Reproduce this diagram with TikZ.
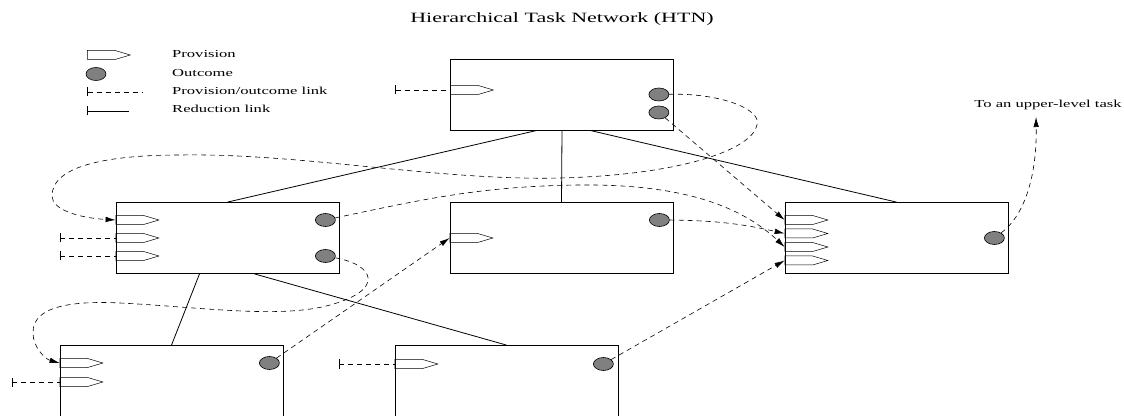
\documentclass[tikz,border=0pt]{standalone}
\usepackage{fontspec}
\setmainfont{Liberation Serif}[FakeStretch=1.55]
\usetikzlibrary{positioning, shapes.geometric, shapes.symbols, arrows.meta}

\tikzset{
	task/.style = {draw, line width = 0.8pt, minimum width = 223pt, minimum height = 71pt, inner sep = 0pt},
	prov/.style = {signal, signal to = east, signal pointer angle = 33, draw, line width = 0.5pt,
		minimum width = 43pt, minimum height = 9pt, inner sep = 0pt, anchor = west},
	outcome/.style = {ellipse, draw, fill = gray, line width = 0.6pt, minimum width = 20pt, minimum height = 13pt, inner sep = 0pt},
	plink/.style = {line width = 0.6pt, dash pattern = on 5pt off 4pt, -{Latex[length = 10pt, width = 5.5pt]}},
	tie/.style = {line width = 0.6pt, dash pattern = on 5pt off 4pt, {Bar[width = 9pt, line width = 0.8pt]}-},
	rlink/.style = {line width = 0.8pt},
	lbl/.style = {font = \fontsize{10.7}{12}\selectfont, inner sep = 0pt}
}

\begin{document}
\begin{tikzpicture}[x = 1pt, y = 1pt]
	\useasboundingbox (0,0) rectangle (1124,415);

	\node[font = \fontsize{14.2}{16}\selectfont, inner sep = 0pt, anchor = base] (title) at (562,392) {Hierarchical Task Network (HTN)};

	% legend
	\node[prov] (lgp) at (87,360) {};
	\node[outcome] (lgo) at (96,341) {};
	\coordinate (lgl1) at (87,323);
	\coordinate (lgl2) at (143,323);
	\coordinate (lgr1) at (87,304);
	\coordinate (lgr2) at (129,304);
	\draw[tie] (lgl1) -- (lgl2);
	\draw[rlink, {Bar[width = 9pt]}-] (lgr1) -- (lgr2);
	\node[lbl, anchor = base west] (lgpt) at (172,357) {Provision};
	\node[lbl, anchor = base west] (lgot) at (172,338) {Outcome};
	\node[lbl, anchor = base west] (lglt) at (172,320) {Provision/outcome link};
	\node[lbl, anchor = base west] (lgrt) at (172,302) {Reduction link};

	% tasks
	\node[task] (T) at (562,320.5) {};
	\node[task] (L) at (227.5,177) {};
	\node[task] (M) at (561.5,177) {};
	\node[task] (R) at (896.5,177) {};
	\node[task] (LL) at (171.5,34) {};
	\node[task] (BC) at (506.5,34) {};

	\node[prov] (tp) at ([yshift = 4.5pt]T.west) {};
	\node[prov] (lp1) at ([yshift = 18pt]L.west) {};
	\node[prov] (lp2) at (L.west) {};
	\node[prov] (lp3) at ([yshift = -18pt]L.west) {};
	\node[prov] (mp) at (M.west) {};
	\node[prov] (rp1) at ([yshift = 18pt]R.west) {};
	\node[prov] (rp2) at ([yshift = 4.5pt]R.west) {};
	\node[prov] (rp3) at ([yshift = -9pt]R.west) {};
	\node[prov] (rp4) at ([yshift = -22.5pt]R.west) {};
	\node[prov] (llp1) at ([yshift = 18pt]LL.west) {};
	\node[prov] (llp2) at ([yshift = -1pt]LL.west) {};
	\node[prov] (bp) at ([yshift = 17pt]BC.west) {};

	\node[outcome] (to1) at ([xshift = -15pt]T.east) {};
	\node[outcome] (to2) at ([shift = {(-15pt,-18pt)}]T.east) {};
	\node[outcome] (lo1) at ([shift = {(-14pt,18pt)}]L.east) {};
	\node[outcome] (lo2) at ([shift = {(-14pt,-18pt)}]L.east) {};
	\node[outcome] (mo) at ([shift = {(-14pt,18pt)}]M.east) {};
	\node[outcome] (ro) at ([xshift = -14pt]R.east) {};
	\node[outcome] (llo) at ([shift = {(-14pt,18pt)}]LL.east) {};
	\node[outcome] (bo) at ([shift = {(-15pt,17pt)}]BC.east) {};

	\node[lbl, anchor = base] (up) at (1048,307) {To an upper-level task};
	\coordinate (upc) at (1036,298);

	% reduction links
	\begin{scope}[rlink]
		\draw ([xshift = -25pt]T.south) -- (L.north);
		\draw (T.south) -- (M.north);
		\draw ([xshift = 28pt]T.south) -- (R.north);
		\draw ([xshift = -28pt]L.south) -- (LL.north);
		\draw ([xshift = 27pt]L.south) -- (BC.north);
	\end{scope}

	% free provisions
	\coordinate[left = 55pt of tp.west] (tf);
	\coordinate[left = 56pt of lp2.west] (lf2);
	\coordinate[left = 56pt of lp3.west] (lf3);
	\coordinate[left = 48pt of llp2.west] (llf);
	\coordinate[left = 56pt of bp.west] (bf);
	\draw[tie] (tf) -- (tp.west);
	\draw[tie] (lf2) -- (lp2.west);
	\draw[tie] (lf3) -- (lp3.west);
	\draw[tie] (llf) -- (llp2.west);
	\draw[tie] (bf) -- (bp.west);

	% provision/outcome links
	\draw[plink] (to1) .. controls (720,322) and (762,306) .. (757,290)
		.. controls (752,265) and (680,240) .. (560,237)
		.. controls (440,234) and (300,262) .. (181,260)
		.. controls (110,260) and (52,250) .. (52,219)
		.. controls (52,205) and (80,197) .. (lp1.west);
	\draw[plink] (to2) -- (rp1.west);
	\draw[plink] (mo) to[bend left = 6] (rp2.west);
	\draw[plink] (lo1) .. controls (420,215) and (480,229) .. (580,230)
		.. controls (680,231) and (740,210) .. (rp3.west);
	\draw[plink] (bo) -- (rp4.west);
	\draw[plink] (llo) -- (mp.west);
	\draw[plink] (lo2) .. controls (375,150) and (385,125) .. (330,110)
		.. controls (280,96) and (200,108) .. (120,112)
		.. controls (40,116) and (33,95) .. (33,82)
		.. controls (33,68) and (45,56) .. (llp1.west);
	\draw[plink] (ro) .. controls (1025,200) and (1037,240) .. (upc);
\end{tikzpicture}
\end{document}
